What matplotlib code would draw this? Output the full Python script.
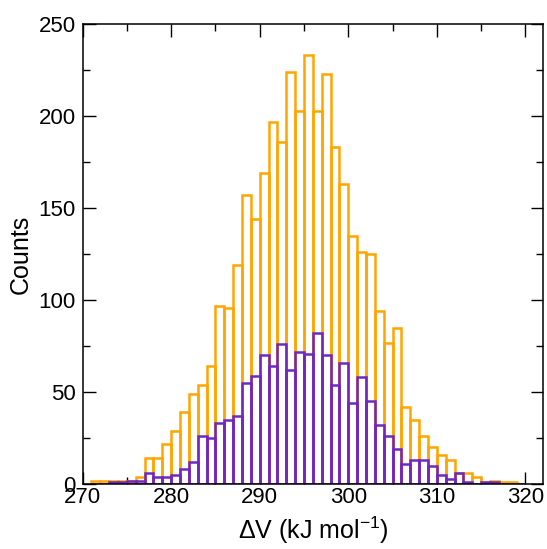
import numpy as np
import matplotlib
matplotlib.use("Agg")
import matplotlib.pyplot as plt
from matplotlib.ticker import MultipleLocator

plt.rcParams['font.family'] = ['Liberation Sans', 'DejaVu Sans']
plt.rcParams['mathtext.fontset'] = 'custom'
plt.rcParams['mathtext.rm'] = 'Liberation Sans'
plt.rcParams['mathtext.it'] = 'Liberation Sans'

bin_left = list(range(271, 320))
orange_counts = [2, 2, 2, 2, 2, 4, 14, 14, 22, 29, 39, 49, 54, 64, 97, 96, 119, 157, 144, 169,
                 197, 186, 224, 203, 233, 203, 223, 183, 163, 135, 126, 125, 94, 77, 85, 42, 35, 26, 20, 16,
                 13, 6, 6, 4, 1, 2, 1, 1, 0]
purple_counts = [0, 0, 1, 1, 2, 2, 6, 4, 4, 5, 8, 12, 26, 25, 33, 35, 37, 55, 59, 70,
                 64, 76, 62, 72, 71, 82, 70, 54, 66, 44, 58, 45, 32, 26, 19, 11, 13, 13, 10, 5,
                 3, 6, 1, 0, 1, 1, 0, 0, 0]

fig = plt.figure(figsize=(5.47, 5.49), dpi=100)
ax = fig.add_axes([0.151, 0.118, 0.842, 0.838])

ax.bar(bin_left, orange_counts, width=1.0, align='edge', fill=False,
       edgecolor='#FFA500', linewidth=1.8, zorder=2)
ax.bar(bin_left, purple_counts, width=1.0, align='edge', fill=False,
       edgecolor='#7126C2', linewidth=1.8, zorder=3)

ax.set_xlim(270, 322)
ax.set_ylim(0, 250)
ax.xaxis.set_major_locator(MultipleLocator(10))
ax.xaxis.set_minor_locator(MultipleLocator(5))
ax.yaxis.set_major_locator(MultipleLocator(50))
ax.yaxis.set_minor_locator(MultipleLocator(25))

ax.tick_params(which='both', direction='in', top=True, right=True, colors='black', width=1.0)
ax.tick_params(which='major', length=9)
ax.tick_params(which='minor', length=4.7)
ax.tick_params(axis='x', which='major', labelsize=16, pad=2)
ax.tick_params(axis='y', which='major', labelsize=16, pad=5)

for s in ax.spines.values():
    s.set_linewidth(1.1)
    s.set_zorder(5)

ax.set_xlabel(r'$\Delta$V (kJ mol$^{\mathregular{-1}}$)', fontsize=18, labelpad=5)
ax.set_ylabel('Counts', fontsize=18, labelpad=4)

fig.savefig('out.png', dpi=100)
